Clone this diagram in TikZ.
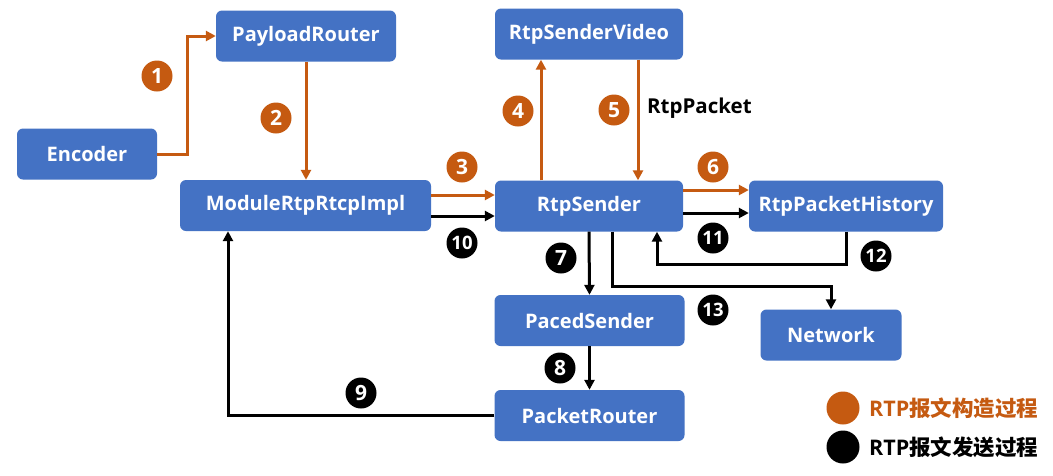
\documentclass[tikz,border=0pt]{standalone}
\usepackage{fontspec}
\setmainfont{Open Sans}
\newfontfamily\cjk{Noto Sans CJK SC}
\usetikzlibrary{arrows.meta,calc}
\definecolor{boxblue}{HTML}{4472C4}
\definecolor{orng}{HTML}{C55A11}
\begin{document}
\begin{tikzpicture}[x=1pt,y=-1pt,
  box/.style={fill=boxblue, rounded corners=6pt, text=white, font=\fontsize{20}{23}\selectfont\bfseries, minimum height=51pt, inner sep=0pt},
  onum/.style={circle, fill=orng, text=white, minimum size=31pt, inner sep=0pt, font=\fontsize{21}{23}\selectfont\bfseries},
  knum/.style={circle, fill=black, text=white, minimum size=31pt, inner sep=0pt, font=\fontsize{21}{23}\selectfont\bfseries},
  knumd/.style={knum, font=\fontsize{18.5}{20}\selectfont\bfseries},
  oarr/.style={draw=orng, line width=3pt, -{Triangle[length=10pt,width=10pt]}},
  karr/.style={draw=black, line width=3pt, -{Triangle[length=10pt,width=10pt]}}
]
\useasboundingbox (0,0) rectangle (1053,475);
\fill[white] (0,0) rectangle (1053,475);
% boxes
\node[box, minimum width=140pt] (enc) at (87,154) {Encoder};
\node[box, minimum width=180pt] (pay) at (306,36) {PayloadRouter};
\node[box, minimum width=251pt] (mod) at (305.5,205.5) {ModuleRtpRtcpImpl};
\node[box, minimum width=188pt] (vid) at (589,34) {RtpSenderVideo};
\node[box, minimum width=188pt] (snd) at (589,206) {RtpSender};
\node[box, minimum width=194pt] (hist) at (846,206) {RtpPacketHistory};
\node[box, minimum width=190pt] (paced) at (589.5,320.5) {PacedSender};
\node[box, minimum width=141pt] (net) at (831,335) {Network};
\node[box, minimum width=190pt] (prt) at (589.5,415.5) {PacketRouter};
% orange arrows
\draw[oarr] (enc.east) -- (187,154) -- (187,36) -- (pay.west);
\draw[oarr] (pay.south) -- (pay.south |- mod.north);
\draw[oarr] (mod.east |- 0,195) -- (snd.west |- 0,195);
\draw[oarr] (snd.north -| 541,0) -- (vid.south -| 541,0);
\draw[oarr] (vid.south -| 638,0) -- (snd.north -| 638,0);
\draw[oarr] (snd.east |- 0,190) -- (hist.west |- 0,190);
% black arrows
\draw[karr] (mod.east |- 0,216) -- (snd.west |- 0,216);
\draw[karr] (snd.east |- 0,213) -- (hist.west |- 0,213);
\draw[karr] (hist.south) -- (846,264) -- (657,264) -- (snd.south -| 657,0);
\draw[karr] (snd.south) -- (paced.north);
\draw[karr] (snd.south -| 612,0) -- (612,286) -- (831,286) -- (net.north);
\draw[karr] (paced.south) -- (prt.north);
\draw[karr] (prt.west) -- (228,415.5) -- (mod.south -| 228,0);
% numbers
\node[onum] (n1) at (157,76) {1};
\node[onum] (n2) at (276,118) {2};
\node[onum] (n3) at (462,167) {3};
\node[onum] (n4) at (518,111) {4};
\node[onum] (n5) at (614,110) {5};
\node[onum] (n6) at (713,167) {6};
\node[knum] (n7) at (561,258) {7};
\node[knum] (n8) at (560,368) {8};
\node[knum] (n9) at (361,393) {9};
\node[knumd] (n10) at (462,243) {10};
\node[knumd] (n11) at (713,238) {11};
\node[knumd] (n12) at (876,256) {12};
\node[knumd] (n13) at (713,310) {13};
\node[font=\fontsize{20.5}{22}\selectfont\bfseries, anchor=west, inner sep=0pt] (rtpp) at (647,108) {RtpPacket};
% legend
\node[circle, fill=orng, minimum size=33pt, inner sep=0pt] (lgo) at (843,408) {};
\node[circle, fill=black, minimum size=33pt, inner sep=0pt] (lgk) at (843,447) {};
\node[anchor=west, inner sep=0pt, text=orng, font=\fontsize{21.5}{23}\selectfont\bfseries] (lgot) at (869,408) {RTP{\cjk 报文构造过程}};
\node[anchor=west, inner sep=0pt, text=black, font=\fontsize{21.5}{23}\selectfont\bfseries] (lgkt) at (869,447) {RTP{\cjk 报文发送过程}};
\end{tikzpicture}
\end{document}
